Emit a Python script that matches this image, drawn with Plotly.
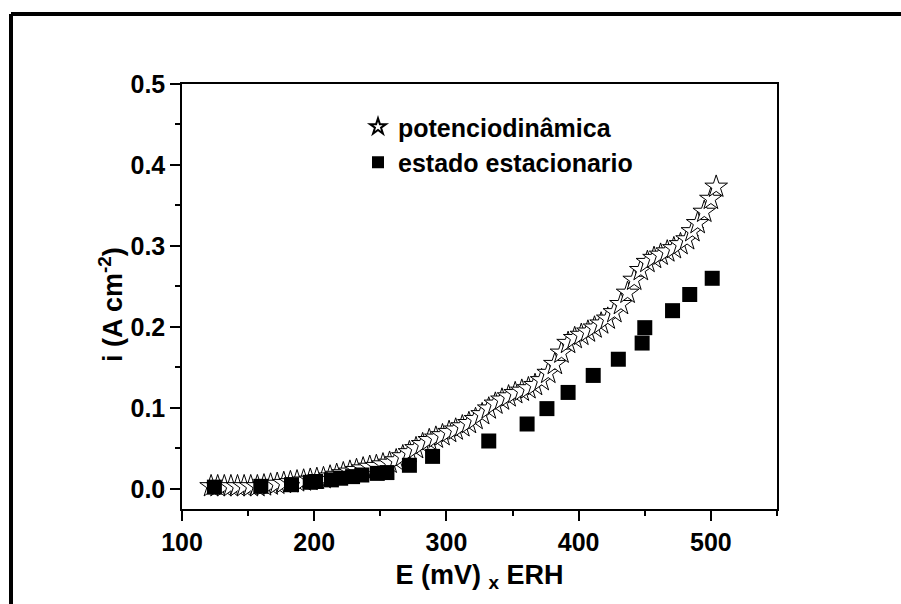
import plotly.graph_objects as go

# potenciodinamica (stars)
pot_E = [122, 127, 132, 137, 142, 147, 152, 157, 162, 167, 172, 177, 182, 187, 192, 197,
         202, 207, 212, 217, 222, 227, 232, 237, 242, 247, 252, 257, 262, 267, 272, 277,
         282, 287, 292, 297, 302, 307, 312, 317, 322, 327, 332, 337, 342, 347, 352, 357,
         362, 367, 372, 377, 382, 387, 392, 397, 402, 407, 412, 417, 422, 427, 432, 437,
         442, 447, 452, 457, 462, 467, 472, 477, 482, 486, 490, 495, 500, 504]
pot_i = [0.003, 0.003, 0.003, 0.003, 0.003, 0.003, 0.003, 0.003, 0.004, 0.005, 0.006, 0.007,
         0.008, 0.009, 0.010, 0.011, 0.012, 0.013, 0.015, 0.017, 0.019, 0.021, 0.023, 0.025,
         0.027, 0.028, 0.030, 0.032, 0.035, 0.040, 0.045, 0.050, 0.055, 0.060, 0.063, 0.066,
         0.070, 0.073, 0.077, 0.081, 0.086, 0.092, 0.099, 0.105, 0.110, 0.114, 0.118, 0.121,
         0.124, 0.128, 0.134, 0.143, 0.154, 0.168, 0.180, 0.186, 0.190, 0.194, 0.199, 0.204,
         0.210, 0.218, 0.228, 0.242, 0.258, 0.270, 0.280, 0.285, 0.289, 0.293, 0.297, 0.302,
         0.308, 0.318, 0.328, 0.342, 0.358, 0.373]

# estado estacionario (squares)
est_E = [124.5, 159.6, 182.8, 197, 201, 213, 220, 229, 236, 247.7, 255, 272, 289.5,
         332, 361, 376, 392, 411, 430, 448, 450, 471, 484, 501]
est_i = [0.002, 0.003, 0.005, 0.008, 0.009, 0.011, 0.013, 0.015, 0.017, 0.019, 0.020,
         0.029, 0.040, 0.059, 0.080, 0.099, 0.119, 0.140, 0.160, 0.180, 0.199, 0.220,
         0.240, 0.260]

x_ticks = [100, 200, 300, 400, 500]
y_ticks = [0.0, 0.1, 0.2, 0.3, 0.4, 0.5]

FONT = "Liberation Sans, Arial, sans-serif"

fig = go.Figure()
fig.add_trace(go.Scatter(
    x=pot_E, y=pot_i, mode="markers", name="potenciodinâmica",
    marker=dict(symbol="star", size=17, color="white", line=dict(color="black", width=1)),
))
fig.add_trace(go.Scatter(
    x=est_E, y=est_i, mode="markers", name="estado estacionario",
    marker=dict(symbol="square", size=15, color="black", line=dict(color="black", width=0)),
))

axis_common = dict(
    showgrid=False, zeroline=False, showline=True, linecolor="black", linewidth=1.5,
    mirror=True, ticks="outside", ticklen=10, tickwidth=1.5, tickcolor="black",
    tickfont=dict(family=FONT, size=25, color="black", weight="bold"),
)

fig.update_xaxes(
    range=[100, 550], tickvals=x_ticks, ticktext=[str(v) for v in x_ticks],
    minor=dict(dtick=50, tick0=100, ticks="outside", ticklen=5, tickwidth=1.5, tickcolor="black"),
    title=dict(text="E (mV) <sub>x</sub> ERH", font=dict(family=FONT, size=27, color="black", weight="bold"),
               standoff=10),
    **axis_common,
)
fig.update_yaxes(
    range=[-0.025, 0.5], tickvals=y_ticks, ticktext=[f"{v:.1f}" for v in y_ticks],
    minor=dict(dtick=0.05, tick0=0, ticks="outside", ticklen=5, tickwidth=1.5, tickcolor="black"),
    **axis_common,
)

L, R, T, B = 182, 124, 84, 95
W, H = 901, 604
pw, ph = W - L - R, H - T - B

def px_x(p):
    return (p - L) / pw

def px_y(p):
    return (H - B - p) / ph

# y-axis title placed as annotation for exact position
fig.add_annotation(
    text="i (A cm<sup>-2</sup>)", textangle=-90, xref="paper", yref="paper",
    x=px_x(111), y=px_y(305), xanchor="center", yanchor="middle", showarrow=False,
    font=dict(family=FONT, size=27, color="black", weight="bold"),
)

fig.add_shape(type="line", xref="paper", yref="paper",
              x0=px_x(11), x1=px_x(1000), y0=px_y(14), y1=px_y(14),
              line=dict(color="black", width=4))
fig.add_shape(type="line", xref="paper", yref="paper",
              x0=px_x(11), x1=px_x(11), y0=px_y(14), y1=px_y(700),
              line=dict(color="black", width=4))

fig.update_layout(
    width=W, height=H,
    margin=dict(l=L, r=R, t=T, b=B),
    paper_bgcolor="white", plot_bgcolor="white",
    font=dict(family=FONT, color="black", weight="bold"),
    showlegend=True,
    legend=dict(x=px_x(358), y=px_y(104), xanchor="left", yanchor="top",
                bgcolor="rgba(0,0,0,0)", borderwidth=0,
                font=dict(family=FONT, size=25, color="black", weight="bold"),
                itemsizing="constant", tracegroupgap=0),
)

fig.write_html("out.html")
